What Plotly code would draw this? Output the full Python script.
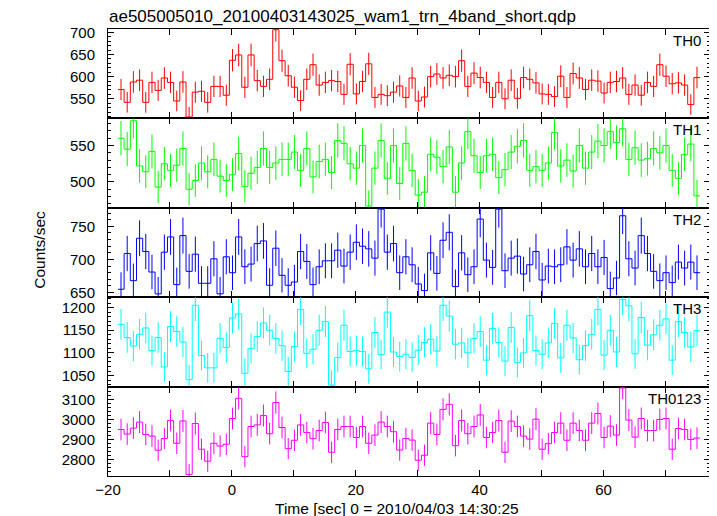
import numpy as np
import plotly.graph_objects as go
from plotly.subplots import make_subplots

TITLE = "ae505005010_20100403143025_wam1_trn_4band_short.qdp"
X_TITLE = "Time [sec] 0 = 2010/04/03 14:30:25"
Y_TITLE = "Counts/sec"
BAND_NAMES = ["TH0", "TH1", "TH2", "TH3", "TH0123"]
BAND_COLORS = ["#ff0000", "#00ff00", "#0000ff", "#00ffff", "#ff00ff"]

# time binning (seconds relative to 2010/04/03 14:30:25)
BIN_START = -18.4
BIN_WIDTH = 1.0

TH0 = [571, 542, 588, 592, 542, 587, 569, 597, 587, 545, 588, 509, 565, 567, 542, 578, 578, 558,
       637, 649, 576, 649, 591, 578, 594, 706, 636, 602, 576, 546, 594, 627, 581, 587, 591, 589,
       560, 628, 561, 589, 629, 553, 560, 557,
       565, 579, 553, 597, 545, 554, 600, 606, 597, 603, 600, 636, 578, 608, 598, 587, 553, 587,
       550, 592, 551, 598, 594, 586, 561, 560, 555, 601, 553, 607, 597, 571, 592, 590, 563, 587,
       589, 597, 560, 581, 558, 587, 578, 627, 601, 584, 586, 581, 537, 598]

TH1 = [560, 545, 584, 522, 514, 542, 493, 525, 516, 523, 546, 490, 502, 526, 514, 531, 508, 502,
       510, 539, 494, 512, 520, 546, 520, 526, 531, 531, 541, 516, 546, 507, 528, 531, 513, 557,
       553, 525, 519, 550, 467, 519, 557, 505,
       550, 498, 553, 516, 482, 486, 538, 534, 521, 548, 486, 526, 569, 536, 513, 536, 538, 506,
       517, 541, 549, 557, 516, 521, 516, 526, 568, 522, 530, 515, 550, 519, 541, 556, 550, 569,
       554, 573, 531, 547, 530, 532, 546, 540, 550, 516, 505, 538, 552, 481]

TH2 = [655, 709, 668, 732, 712, 681, 648, 711, 734, 662, 736, 682, 708, 664, 664, 701, 648, 704,
       680, 734, 689, 693, 724, 728, 661, 717, 676, 661, 666, 712, 697, 662, 689, 698, 698, 714,
       690, 711, 726, 720, 716, 702, 776, 711,
       724, 680, 704, 692, 663, 653, 710, 679, 729, 741, 659, 710, 677, 689, 761, 699, 688, 776,
       683, 702, 705, 678, 692, 712, 669, 690, 689, 692, 719, 699, 716, 689, 709, 689, 703, 656,
       672, 766, 701, 687, 736, 709, 682, 668, 680, 665, 696, 687, 696, 680]

TH3 = [1163, 1134, 1115, 1141, 1155, 1105, 1134, 1069, 1158, 1147, 1124, 1041, 1205, 1094, 1067,
       1067, 1132, 1112, 1177, 1186, 1055, 1110, 1136, 1166, 1150, 1132, 1116, 1059, 1114, 1196,
       1099, 1108, 1150, 1169, 1029, 1090, 1161, 1103, 1105, 1103, 1065, 1145, 1096, 1190,
       1102, 1092, 1097, 1090, 1106, 1123, 1130, 1104, 1205, 1181, 1119, 1122, 1100, 1132, 1147,
       1084, 1154, 1123, 1082, 1156, 1079, 1100, 1182, 1105, 1097, 1122, 1165, 1089, 1161, 1133,
       1085, 1116, 1141, 1196, 1095, 1150, 1102, 1218, 1204, 1098, 1178, 1117, 1140, 1161, 1175,
       1084, 1169, 1145, 1113, 1149]

TH0123 = [2950, 2927, 2957, 2987, 2925, 2917, 2846, 2905, 2995, 2881, 2993, 2725, 2980, 2851, 2791,
          2881, 2867, 2876, 3005, 3106, 2814, 2965, 2973, 3020, 2929, 3085, 2960, 2854, 2896, 2973,
          2935, 2904, 2945, 2985, 2836, 2950, 2965, 2965, 2910, 2965, 2881, 2922, 2987, 2965,
          2939, 2847, 2905, 2897, 2796, 2821, 2982, 2925, 3051, 3076, 2869, 2995, 2929, 2965, 3023,
          2910, 2935, 2995, 2836, 2992, 2965, 2917, 2902, 3002, 2851, 2879, 2935, 2982, 2896, 2982,
          2945, 2896, 2982, 3030, 2910, 2967, 2922, 3158, 2997, 2912, 3005, 2945, 2945, 3000, 3005,
          2851, 2955, 2950, 2900, 2907]

X_TICK_VALUES = [-20, -10, 0, 10, 20, 30, 40, 50, 60, 70]
X_TICK_LABELS = ["\u221220", "", "0", "", "20", "", "40", "", "60", ""]

Y_RANGES = [[505.7, 707.6], [464.6, 587.2], [643, 778], [1025.7, 1222.8], [2717, 3165]]
Y_MAJOR = [50, 50, 50, 50, 100]
Y_MINOR = [10, 10, 10, 10, 20]

SERIES = [TH0, TH1, TH2, TH3, TH0123]

FONT = "Liberation Sans, Helvetica, Arial, sans-serif"

fig = make_subplots(rows=5, cols=1, shared_xaxes=True, vertical_spacing=0)

for i, vals in enumerate(SERIES):
    vals = np.asarray(vals, dtype=float)
    n = len(vals)
    edges = BIN_START + BIN_WIDTH * np.arange(n + 1)
    centers = edges[:-1] + BIN_WIDTH / 2.0
    errs = np.sqrt(vals * BIN_WIDTH) / BIN_WIDTH
    color = BAND_COLORS[i]
    fig.add_trace(go.Scatter(
        x=centers, y=vals, mode="markers",
        marker=dict(size=1, color="rgba(0,0,0,0)"),
        error_y=dict(type="data", array=errs, width=0, thickness=1, color=color),
        hoverinfo="skip"), row=i + 1, col=1)
    fig.add_trace(go.Scatter(
        x=edges, y=np.append(vals, vals[-1]), mode="lines",
        line=dict(color=color, width=1, shape="hv")), row=i + 1, col=1)

    fig.update_yaxes(
        range=Y_RANGES[i], dtick=Y_MAJOR[i], tick0=0,
        ticks="inside", ticklen=6, tickwidth=1, tickcolor="black",
        minor=dict(dtick=Y_MINOR[i], tick0=0, ticks="inside", ticklen=3, tickcolor="black"),
        showline=True, linecolor="black", linewidth=1, mirror="allticks",
        showgrid=False, zeroline=False,
        tickfont=dict(family=FONT, size=15, color="black"),
        ticklabelstandoff=9,
        row=i + 1, col=1)
    fig.update_xaxes(
        range=[-20, 77.2], tickvals=X_TICK_VALUES, ticktext=X_TICK_LABELS,
        ticks="inside", ticklen=6, tickwidth=1, tickcolor="black",
        showline=True, linecolor="black", linewidth=1, mirror="allticks",
        showgrid=False, zeroline=False,
        tickfont=dict(family=FONT, size=15, color="black"),
        row=i + 1, col=1)

annotations = []
for i, name in enumerate(BAND_NAMES):
    yaxis_name = "yaxis" if i == 0 else "yaxis%d" % (i + 1)
    dom = fig.layout[yaxis_name].domain
    annotations.append(dict(
        text=name, xref="paper", yref="paper", x=0.988, y=dom[1],
        xanchor="right", yanchor="top", yshift=-1, showarrow=False,
        font=dict(family=FONT, size=15, color="black")))

annotations.append(dict(
    text=TITLE, xref="paper", yref="paper", x=-0.002, y=1.0,
    xanchor="left", yanchor="bottom", yshift=1, showarrow=False,
    font=dict(family=FONT, size=17, color="black")))
annotations.append(dict(
    text=X_TITLE, xref="paper", yref="paper", x=0.48, y=0.0,
    xanchor="center", yanchor="top", yshift=-22, showarrow=False,
    font=dict(family=FONT, size=15.5, color="black")))
annotations.append(dict(
    text=Y_TITLE, xref="paper", yref="paper", x=-0.113, y=0.506,
    xanchor="center", yanchor="middle", textangle=-90, showarrow=False,
    font=dict(family=FONT, size=15.5, color="black")))

# the page body has an 8 px default margin; size the figure so the plot lands where the reference has it
fig.update_layout(
    width=709, height=508,
    margin=dict(l=100, r=7, t=21, b=40),
    paper_bgcolor="white", plot_bgcolor="white",
    showlegend=False,
    annotations=annotations,
)

fig.write_html("out.html")
